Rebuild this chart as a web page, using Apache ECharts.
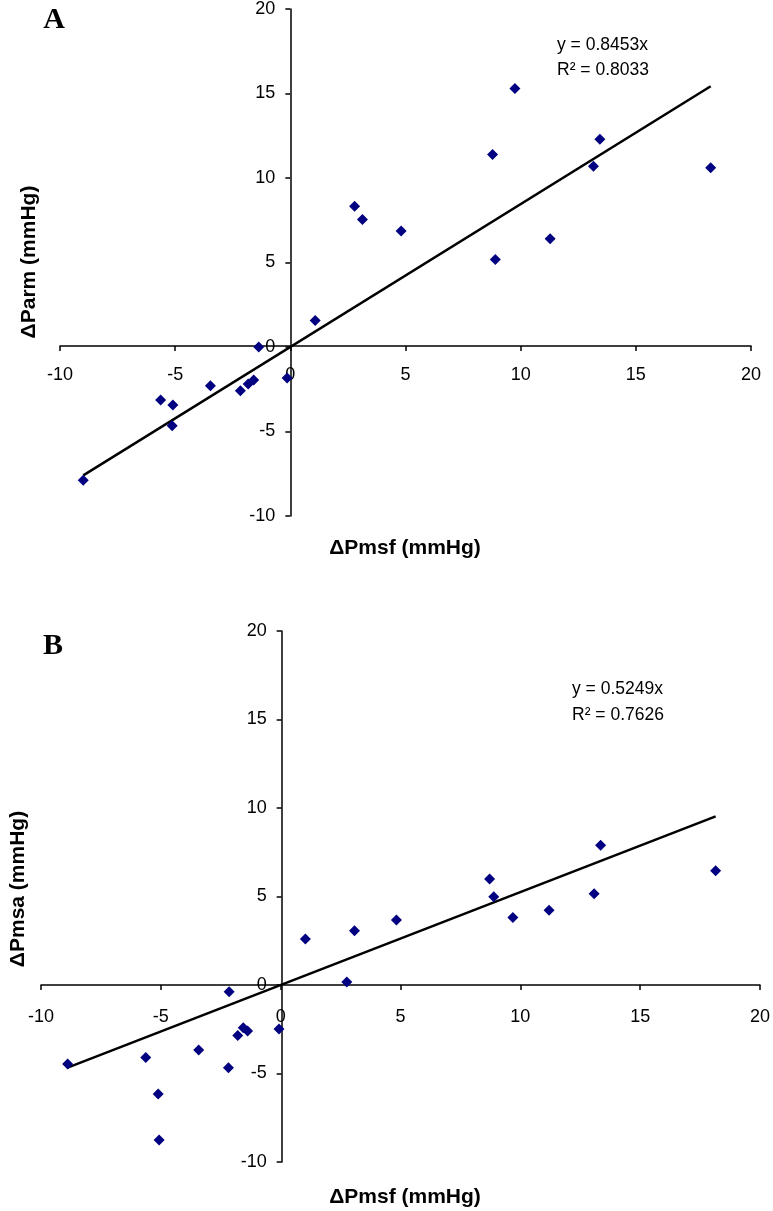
<!DOCTYPE html>
<html>
<head>
<meta charset="utf-8">
<title>ΔPmsf vs ΔParm / ΔPmsa</title>
<script src="https://cdn.jsdelivr.net/npm/echarts@6/dist/echarts.min.js"></script>
<style>
  html, body { margin: 0; padding: 0; background: #fff; }
  #chart { width: 773px; height: 1211px; }
</style>
</head>
<body>
<div id="chart"></div>
<script>
// panel A: ΔPmsf vs ΔParm
const pmsfA = [-8.99, -5.63, -5.13, -5.10, -3.47, -2.17, -1.83, -1.59, -1.37, -0.14, 1.08, 2.79, 3.13, 4.81, 8.78, 8.90, 9.75, 11.28, 13.16, 13.44, 18.25]
const parmA = [-7.88, -3.14, -4.66, -3.43, -2.29, -2.59, -2.19, -1.96, 0.0, -1.84, 1.57, 8.33, 7.55, 6.86, 11.39, 5.18, 15.3, 6.41, 10.7, 12.3, 10.6]

// panel B: ΔPmsf vs ΔPmsa
const pmsfB = [-8.89, -5.63, -5.11, -5.07, -3.42, -2.18, -2.15, -1.79, -1.56, -1.38, -0.07, 1.03, 2.76, 3.08, 4.83, 8.72, 8.89, 9.69, 11.2, 13.08, 13.35, 18.15]
const pmsaB = [-4.46, -4.09, -6.16, -8.76, -3.67, -4.67, -0.38, -2.86, -2.41, -2.6, -2.49, 2.6, 0.17, 3.07, 3.67, 5.99, 4.99, 3.82, 4.22, 5.16, 7.9, 6.46]

// fitted lines through the origin (from the figure)
const slopes = [0.8453, 0.5249]
const fitLabels = [['y = 0.8453x', 'R² = 0.8033'], ['y = 0.5249x', 'R² = 0.7626']]
const axisTicks = { min: -10, max: 20, interval: 5 }

const navy = '#000080'
const font = 'Liberation Sans, Arial, sans-serif'

const grids = [
  { left: 60, top: 6, width: 691, height: 510 },
  { left: 41, top: 631, width: 722, height: 531 }
]

const pairs = (xs, ys) => xs.map((x, i) => [x, ys[i]])
const fitLine = (xs, k) => {
  const lo = Math.min(...xs), hi = Math.max(...xs)
  return [[lo, k * lo], [hi, k * hi]]
}
// where zero sits inside the axis range (axes cross at the origin)
const zeroFrac = (0 - axisTicks.min) / (axisTicks.max - axisTicks.min)

const axisStyle = { color: '#000', width: 1.5 }

// x axis drawn at y = 0: shift it up from the grid bottom
const makeX = (gridIndex, margin) => ({
  type: 'value', gridIndex, ...axisTicks,
  position: 'bottom',
  offset: -grids[gridIndex].height * zeroFrac,
  axisLine: { onZero: false, lineStyle: axisStyle },
  axisTick: { length: 5, lineStyle: axisStyle },
  axisLabel: { color: '#000', fontSize: 18, fontFamily: font, margin },
  splitLine: { show: false }
})
// y axis drawn at x = 0: shift it right from the grid left edge
const makeY = (gridIndex) => ({
  type: 'value', gridIndex, ...axisTicks,
  position: 'left',
  offset: -grids[gridIndex].width * zeroFrac,
  axisLine: { show: true, onZero: false, lineStyle: axisStyle },
  axisTick: { show: true, length: 5, lineStyle: axisStyle },
  axisLabel: { color: '#000', fontSize: 18, fontFamily: font, margin: 15 },
  splitLine: { show: false }
})

const txt = (x, y, text, size, opts = {}) => ({
  type: 'text', x, y, rotation: opts.rotation || 0,
  style: {
    text, fill: '#000', fontSize: size,
    fontFamily: opts.family || font, fontWeight: opts.bold ? 'bold' : 'normal',
    align: opts.align || 'center', verticalAlign: 'middle'
  }
})

const chart = echarts.init(document.getElementById('chart'), null, { renderer: 'canvas' })

chart.setOption({
  animation: false,
  backgroundColor: '#fff',
  grid: grids,
  xAxis: [makeX(0, 20), makeX(1, 23)],
  yAxis: [makeY(0), makeY(1)],
  series: [
    {
      type: 'line', xAxisIndex: 0, yAxisIndex: 0, data: fitLine(pmsfA, slopes[0]),
      symbol: 'none', lineStyle: { color: '#000', width: 2.5 }, z: 2
    },
    {
      type: 'scatter', xAxisIndex: 0, yAxisIndex: 0, data: pairs(pmsfA, parmA),
      symbol: 'diamond', symbolSize: 11, itemStyle: { color: navy, opacity: 1 }, z: 3
    },
    {
      type: 'line', xAxisIndex: 1, yAxisIndex: 1, data: fitLine(pmsfB, slopes[1]),
      symbol: 'none', lineStyle: { color: '#000', width: 2.5 }, z: 2
    },
    {
      type: 'scatter', xAxisIndex: 1, yAxisIndex: 1, data: pairs(pmsfB, pmsaB),
      symbol: 'diamond', symbolSize: 11, itemStyle: { color: navy, opacity: 1 }, z: 3
    }
  ],
  graphic: [
    // panel letters
    txt(54, 20, 'A', 30, { bold: true, family: 'Liberation Serif, Times New Roman, serif' }),
    txt(53, 646, 'B', 30, { bold: true, family: 'Liberation Serif, Times New Roman, serif' }),
    // equations
    txt(557, 45, fitLabels[0][0], 17.5, { align: 'left' }),
    txt(557, 70, fitLabels[0][1], 17.5, { align: 'left' }),
    txt(572, 689, fitLabels[1][0], 17.5, { align: 'left' }),
    txt(572, 715, fitLabels[1][1], 17.5, { align: 'left' }),
    // axis titles
    txt(405, 548, 'ΔPmsf (mmHg)', 21, { bold: true }),
    txt(405, 1197, 'ΔPmsf (mmHg)', 21, { bold: true }),
    txt(29, 262, 'ΔParm (mmHg)', 21, { bold: true, rotation: Math.PI / 2 }),
    txt(18, 889, 'ΔPmsa (mmHg)', 21, { bold: true, rotation: Math.PI / 2 })
  ]
})
</script>
</body>
</html>
